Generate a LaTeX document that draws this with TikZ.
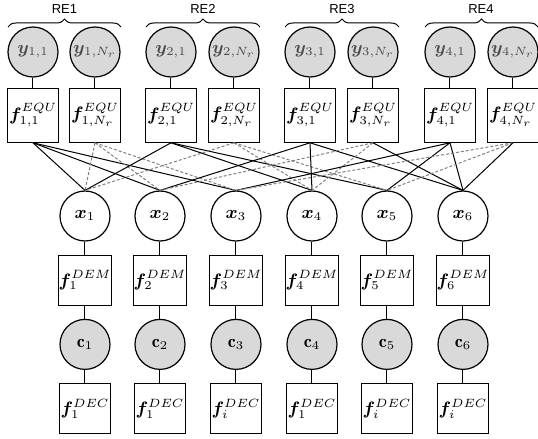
\documentclass[tikz,border=0pt]{standalone}
\usepackage{fontspec}
\usepackage{bm}
\usepackage{tikz}
\usetikzlibrary{positioning, decorations.pathreplacing}
\newfontfamily\labelfont{Liberation Sans}
\tikzset{
  obs/.style={
    draw,
    circle,
    line width=0.6pt,
    minimum size=25pt,
    inner sep=0pt,
    font=\fontsize{9}{10}\selectfont,
    fill=gray!30
  },
  latent/.style={
    obs,
    fill=white
  },
  factor/.style={
    draw,
    rectangle,
    line width=0.6pt,
    minimum width=25.5pt,
    minimum height=25pt,
    inner sep=0pt,
    font=\fontsize{9}{10}\selectfont,
    align=center
  },
  eqfactor/.style={
    factor,
    minimum height=27pt
  },
  link/.style={
    line width=0.5pt
  },
  weak/.style={
    link,
    dash pattern=on 1.5pt off 1pt,
    gray
  },
  group/.style={
    decorate,
    decoration={brace, amplitude=4pt},
    line width=0.5pt
  }
}

\begin{document}
\begin{tikzpicture}[x=0.5pt, y=-0.5pt, node distance=6.5pt]
    \useasboundingbox (0,0) rectangle (538,439);

    % observed renewable outputs
    \node[obs, text=black!70] (y11) at (33,52) {$\bm{y}_{1,1}$};
    \node[obs, text=black!70] (y1n) at (95,52) {$\bm{y}_{1,N_r}$};
    \node[obs, text=black!70] (y21) at (171,52) {$\bm{y}_{2,1}$};
    \node[obs, text=black!70] (y2n) at (234,52) {$\bm{y}_{2,N_r}$};
    \node[obs, text=black!70] (y31) at (310,52) {$\bm{y}_{3,1}$};
    \node[obs, text=black!70] (y3n) at (373,52) {$\bm{y}_{3,N_r}$};
    \node[obs, text=black!70] (y41) at (450,52) {$\bm{y}_{4,1}$};
    \node[obs, text=black!70] (y4n) at (513,52) {$\bm{y}_{4,N_r}$};

    \node[eqfactor, below=5pt of y11] (equ11) {$\bm{f}^{EQU}_{1,1}$};
    \node[eqfactor, below=5pt of y1n] (equ1n) {$\bm{f}^{EQU}_{1,N_r}$};
    \node[eqfactor, below=5pt of y21] (equ21) {$\bm{f}^{EQU}_{2,1}$};
    \node[eqfactor, below=5pt of y2n] (equ2n) {$\bm{f}^{EQU}_{2,N_r}$};
    \node[eqfactor, below=5pt of y31] (equ31) {$\bm{f}^{EQU}_{3,1}$};
    \node[eqfactor, below=5pt of y3n] (equ3n) {$\bm{f}^{EQU}_{3,N_r}$};
    \node[eqfactor, below=5pt of y41] (equ41) {$\bm{f}^{EQU}_{4,1}$};
    \node[eqfactor, below=5pt of y4n] (equ4n) {$\bm{f}^{EQU}_{4,N_r}$};

    \draw[link] (y11) -- (equ11);
    \draw[link] (y1n) -- (equ1n);
    \draw[link] (y21) -- (equ21);
    \draw[link] (y2n) -- (equ2n);
    \draw[link] (y31) -- (equ31);
    \draw[link] (y3n) -- (equ3n);
    \draw[link] (y41) -- (equ41);
    \draw[link] (y4n) -- (equ4n);

    % regions
    \coordinate (re1a) at (8,27);
    \coordinate (re1b) at (121,27);
    \coordinate (re2a) at (146,27);
    \coordinate (re2b) at (260,27);
    \coordinate (re3a) at (285,27);
    \coordinate (re3b) at (399,27);
    \coordinate (re4a) at (425,27);
    \coordinate (re4b) at (538,27);
    \draw[group] (re1a) -- (re1b);
    \draw[group] (re2a) -- (re2b);
    \draw[group] (re3a) -- (re3b);
    \draw[group] (re4a) -- (re4b);
    \node[font=\labelfont\fontsize{6.5}{7}\selectfont] (re1) at (64.5,9) {RE1};
    \node[font=\labelfont\fontsize{6.5}{7}\selectfont] (re2) at (203,9) {RE2};
    \node[font=\labelfont\fontsize{6.5}{7}\selectfont] (re3) at (342,9) {RE3};
    \node[font=\labelfont\fontsize{6.5}{7}\selectfont] (re4) at (481,9) {RE4};

    % hidden states
    \node[latent] (x1) at (85,216) {$\bm{x}_1$};
    \node[latent] (x2) at (160,216) {$\bm{x}_2$};
    \node[latent] (x3) at (236,216) {$\bm{x}_3$};
    \node[latent] (x4) at (312,216) {$\bm{x}_4$};
    \node[latent] (x5) at (387,216) {$\bm{x}_5$};
    \node[latent] (x6) at (463,216) {$\bm{x}_6$};

    \node[factor, below=of x1] (dem1) {$\bm{f}^{DEM}_1$};
    \node[factor, below=of x2] (dem2) {$\bm{f}^{DEM}_2$};
    \node[factor, below=of x3] (dem3) {$\bm{f}^{DEM}_3$};
    \node[factor, below=of x4] (dem4) {$\bm{f}^{DEM}_4$};
    \node[factor, below=of x5] (dem5) {$\bm{f}^{DEM}_5$};
    \node[factor, below=of x6] (dem6) {$\bm{f}^{DEM}_6$};

    \node[obs, below=of dem1] (c1) {$\mathbf{c}_1$};
    \node[obs, below=of dem2] (c2) {$\mathbf{c}_2$};
    \node[obs, below=of dem3] (c3) {$\mathbf{c}_3$};
    \node[obs, below=of dem4] (c4) {$\mathbf{c}_4$};
    \node[obs, below=of dem5] (c5) {$\mathbf{c}_5$};
    \node[obs, below=of dem6] (c6) {$\mathbf{c}_6$};

    \node[factor, below=of c1] (dec1) {$\bm{f}^{DEC}_1$};
    \node[factor, below=of c2] (dec2) {$\bm{f}^{DEC}_1$};
    \node[factor, below=of c3] (dec3) {$\bm{f}^{DEC}_i$};
    \node[factor, below=of c4] (dec4) {$\bm{f}^{DEC}_1$};
    \node[factor, below=of c5] (dec5) {$\bm{f}^{DEC}_i$};
    \node[factor, below=of c6] (dec6) {$\bm{f}^{DEC}_i$};

    \draw[link] (x1) -- (dem1) -- (c1) -- (dec1);
    \draw[link] (x2) -- (dem2) -- (c2) -- (dec2);
    \draw[link] (x3) -- (dem3) -- (c3) -- (dec3);
    \draw[link] (x4) -- (dem4) -- (c4) -- (dec4);
    \draw[link] (x5) -- (dem5) -- (c5) -- (dec5);
    \draw[link] (x6) -- (dem6) -- (c6) -- (dec6);

    % equality factors to states (each pair of regions shares one state)
    \draw[link] (equ11.south) -- (x1.north);
    \draw[link] (equ11.south) -- (x2.north);
    \draw[link] (equ11.south) -- (x3.north);
    \draw[weak] (equ1n.south) -- (x1.north);
    \draw[weak] (equ1n.south) -- (x2.north);
    \draw[weak] (equ1n.south) -- (x3.north);

    \draw[link] (equ21.south) -- (x1.north);
    \draw[link] (equ21.south) -- (x4.north);
    \draw[link] (equ21.south) -- (x5.north);
    \draw[weak] (equ2n.south) -- (x1.north);
    \draw[weak] (equ2n.south) -- (x4.north);
    \draw[weak] (equ2n.south) -- (x5.north);

    \draw[link] (equ31.south) -- (x2.north);
    \draw[link] (equ31.south) -- (x4.north);
    \draw[link] (equ31.south) -- (x6.north);
    \draw[weak] (equ3n.south) -- (x2.north);
    \draw[weak] (equ3n.south) -- (x4.north);
    \draw[link] (equ3n.south) -- (x6.north);

    \draw[link] (equ41.south) -- (x3.north);
    \draw[link] (equ41.south) -- (x5.north);
    \draw[link] (equ41.south) -- (x6.north);
    \draw[weak] (equ4n.south) -- (x3.north);
    \draw[weak] (equ4n.south) -- (x5.north);
    \draw[link] (equ4n.south) -- (x6.north);
\end{tikzpicture}
\end{document}
